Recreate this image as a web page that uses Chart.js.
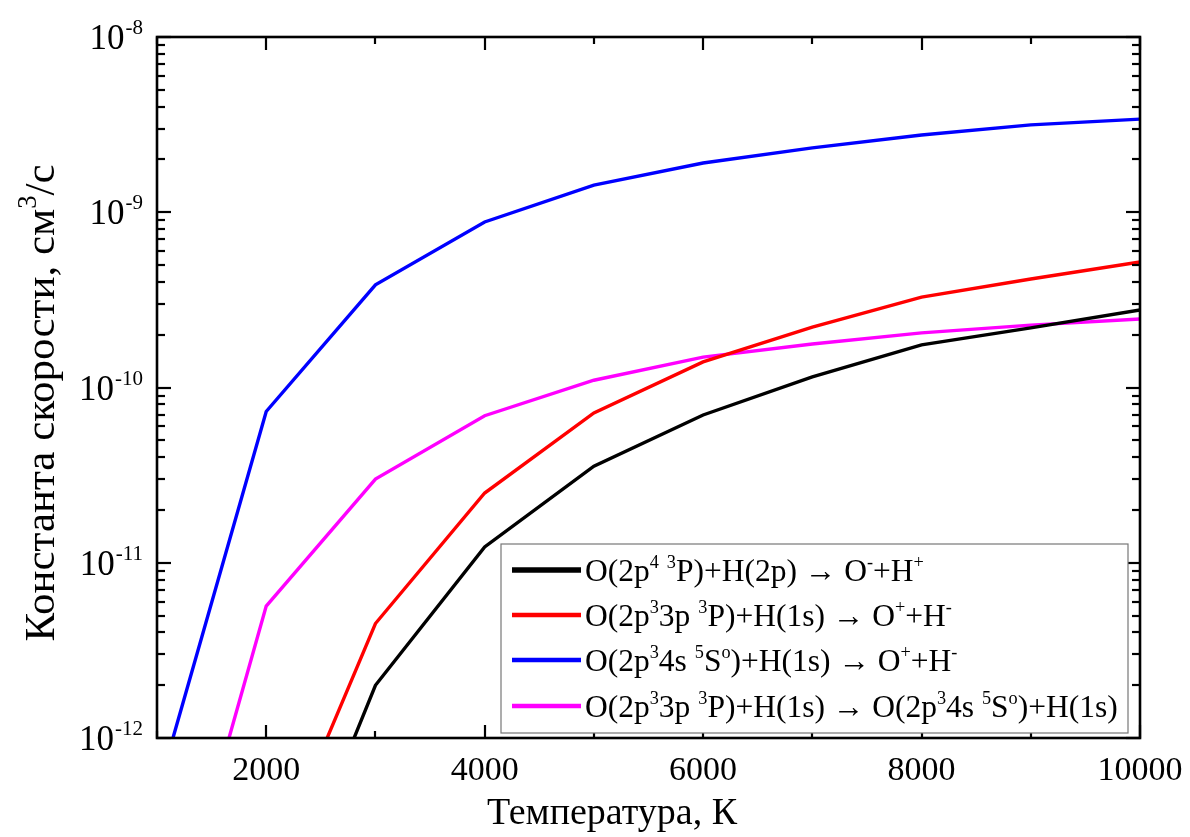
<!DOCTYPE html>
<html>
<head>
<meta charset="utf-8">
<script src="https://cdn.jsdelivr.net/npm/chart.js@4/dist/chart.umd.min.js"></script>
<style>
  html, body { margin: 0; padding: 0; background: #fff; }
  #wrap { width: 1190px; height: 837px; position: relative; }
</style>
</head>
<body>
<div id="wrap"><canvas id="c" width="1190" height="837"></canvas></div>
<script>
// Temperature grid, K
const temperatures = [1000, 2000, 3000, 4000, 5000, 6000, 7000, 8000, 9000, 10000];

// Rate constants, cm^3/s
const rateOminusHplus   = [null, 5.8e-14, 2.0e-12, 1.23e-11, 3.56e-11, 6.97e-11, 1.15e-10, 1.75e-10, 2.19e-10, 2.77e-10];
const rate3pIonPair     = [null, 1.5e-13, 4.5e-12, 2.5e-11, 7.16e-11, 1.40e-10, 2.21e-10, 3.28e-10, 4.16e-10, 5.2e-10];
const rate4sIonPair     = [4.8e-13, 7.3e-11, 3.85e-10, 8.8e-10, 1.43e-9, 1.91e-9, 2.33e-9, 2.76e-9, 3.15e-9, 3.4e-9];
const rate3pTo4s        = [3.5e-14, 5.66e-12, 3.0e-11, 6.9e-11, 1.10e-10, 1.49e-10, 1.77e-10, 2.05e-10, 2.27e-10, 2.46e-10];

// Axis ticks
const xMajorTicks = [2000, 4000, 6000, 8000, 10000];
const xMinorTicks = [1000, 3000, 5000, 7000, 9000];
const yDecadeExponents = [-12, -11, -10, -9, -8];

// Legend labels (^{...} marks superscript)
const seriesLabels = [
  'O(2p^{4} ^{3}P)+H(2p) \u2192 O^{-}+H^{+}',
  'O(2p^{3}3p ^{3}P)+H(1s) \u2192 O^{+}+H^{-}',
  'O(2p^{3}4s ^{5}S^{o})+H(1s) \u2192 O^{+}+H^{-}',
  'O(2p^{3}3p ^{3}P)+H(1s) \u2192 O(2p^{3}4s ^{5}S^{o})+H(1s)'
];
const seriesColors = ['#000000', '#ff0000', '#0000ff', '#ff00ff'];
const seriesValues = [rateOminusHplus, rate3pIonPair, rate4sIonPair, rate3pTo4s];

const FONT = '"Liberation Serif", "Times New Roman", serif';

function toPoints(vals) {
  const pts = [];
  temperatures.forEach((t, i) => { if (vals[i] !== null) pts.push({ x: t, y: vals[i] }); });
  return pts;
}

// Splits text with ^{...} superscript markup into runs
function richParts(str) {
  const parts = [];
  const re = /\^\{([^}]*)\}/g;
  let last = 0, m;
  while ((m = re.exec(str)) !== null) {
    if (m.index > last) parts.push({ t: str.slice(last, m.index), sup: false });
    parts.push({ t: m[1], sup: true });
    last = re.lastIndex;
  }
  if (last < str.length) parts.push({ t: str.slice(last), sup: false });
  return parts;
}
function richWidth(ctx, str, size, supScale) {
  let w = 0;
  richParts(str).forEach(p => {
    ctx.font = (p.sup ? size * supScale : size) + 'px ' + FONT;
    w += ctx.measureText(p.t).width;
  });
  return w;
}
function drawRich(ctx, str, x, y, size, supScale, supRise) {
  let cx = x;
  for (const p of richParts(str)) {
    const fs = p.sup ? size * supScale : size;
    ctx.font = fs + 'px ' + FONT;
    ctx.fillText(p.t, cx, p.sup ? y - size * supRise : y);
    cx += ctx.measureText(p.t).width;
  }
  return cx - x;
}

const framePlugin = {
  id: 'framePlugin',
  afterDraw(chart) {
    const { ctx, chartArea: a, scales: { x, y } } = chart;
    ctx.save();
    ctx.strokeStyle = '#000';
    ctx.fillStyle = '#000';
    ctx.lineCap = 'butt';

    const seg = (x1, y1, x2, y2) => { ctx.beginPath(); ctx.moveTo(x1, y1); ctx.lineTo(x2, y2); ctx.stroke(); };

    // inward ticks
    ctx.lineWidth = 2.2;
    const tickX = (t, len) => {
      const px = Math.round(x.getPixelForValue(t));
      seg(px, a.bottom, px, a.bottom - len);
      seg(px, a.top, px, a.top + len);
    };
    xMajorTicks.forEach(t => tickX(t, 13));
    xMinorTicks.forEach(t => tickX(t, 7));

    const tickY = (v, len) => {
      const py = Math.round(y.getPixelForValue(v));
      seg(a.left, py, a.left + len, py);
      seg(a.right, py, a.right - len, py);
    };
    yDecadeExponents.forEach((e, i) => {
      const base = Math.pow(10, e);
      tickY(base, 14);
      if (i < yDecadeExponents.length - 1) {
        for (let m = 2; m <= 9; m++) tickY(m * base, 8);
      }
    });

    // frame
    ctx.lineWidth = 2.6;
    ctx.strokeRect(a.left, a.top, a.right - a.left, a.bottom - a.top);

    // x tick labels
    ctx.textAlign = 'center';
    ctx.textBaseline = 'alphabetic';
    ctx.font = '34px ' + FONT;
    xMajorTicks.forEach(t => {
      ctx.fillText(String(t), x.getPixelForValue(t), a.bottom + 42);
    });

    // y tick labels: 10 with exponent
    ctx.textAlign = 'left';
    yDecadeExponents.forEach(e => {
      const py = y.getPixelForValue(Math.pow(10, e));
      const sup = String(e);
      ctx.font = '21px ' + FONT;
      const sw = ctx.measureText(sup).width;
      ctx.font = '35px ' + FONT;
      const bw = ctx.measureText('10').width;
      const right = a.left - 14;
      const bx = right - sw - bw - 1;
      ctx.fillText('10', bx, py + 12);
      ctx.font = '21px ' + FONT;
      ctx.fillText(sup, bx + bw + 1, py - 3);
    });

    // axis titles
    ctx.font = '38px ' + FONT;
    ctx.textAlign = 'center';
    ctx.fillText('\u0422\u0435\u043c\u043f\u0435\u0440\u0430\u0442\u0443\u0440\u0430, \u041a', 612, 824);

    ctx.save();
    ctx.translate(54, 403);
    ctx.rotate(-Math.PI / 2);
    ctx.textAlign = 'left';
    const yTitle = '\u041a\u043e\u043d\u0441\u0442\u0430\u043d\u0442\u0430 \u0441\u043a\u043e\u0440\u043e\u0441\u0442\u0438, \u0441\u043c^{3}/\u0441';
    const tw = richWidth(ctx, yTitle, 43, 0.62);
    drawRich(ctx, yTitle, -tw / 2, 0, 43, 0.62, 0.42);
    ctx.restore();

    // legend box
    const lx = 501, ly = 544, lw = 627, lh = 189;
    ctx.fillStyle = '#fff';
    ctx.fillRect(lx, ly, lw, lh);
    ctx.strokeStyle = '#777';
    ctx.lineWidth = 1.2;
    ctx.strokeRect(lx, ly, lw, lh);
    ctx.textAlign = 'left';
    const rowY = [570, 615, 660, 706];
    seriesLabels.forEach((lab, i) => {
      ctx.strokeStyle = seriesColors[i];
      ctx.lineWidth = i === 0 ? 5.5 : 4.5;
      seg(512, rowY[i], 581, rowY[i]);
      ctx.fillStyle = '#000';
      drawRich(ctx, lab, 585, rowY[i] + 11, 31.5, 0.58, 0.42);
    });
    ctx.restore();
  }
};

new Chart(document.getElementById('c'), {
  type: 'line',
  data: {
    datasets: seriesValues.map((vals, i) => ({
      label: seriesLabels[i],
      data: toPoints(vals),
      borderColor: seriesColors[i],
      backgroundColor: seriesColors[i],
      borderWidth: 3.4,
      pointRadius: 0,
      tension: 0,
      fill: false
    }))
  },
  options: {
    responsive: false,
    animation: false,
    devicePixelRatio: 1,
    layout: { padding: { left: 0, top: 37, right: 50, bottom: 0 } },
    plugins: { legend: { display: false }, tooltip: { enabled: false } },
    scales: {
      x: {
        type: 'linear',
        min: 1000,
        max: 10000,
        grid: { display: false },
        border: { display: false },
        ticks: { display: false },
        afterFit(s) { s.height = 99; }
      },
      y: {
        type: 'logarithmic',
        min: 1e-12,
        max: 1e-8,
        grid: { display: false },
        border: { display: false },
        ticks: { display: false },
        afterFit(s) { s.width = 157; }
      }
    }
  },
  plugins: [framePlugin]
});
</script>
</body>
</html>
